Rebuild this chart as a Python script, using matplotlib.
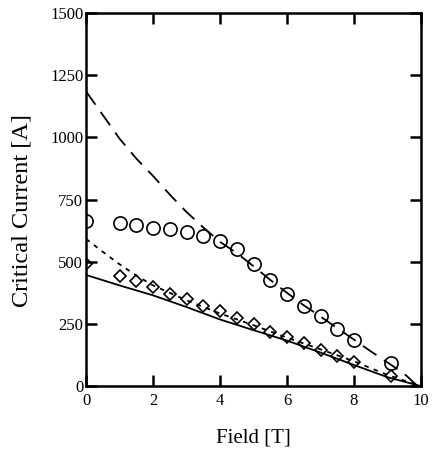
import numpy as np
import matplotlib.pyplot as plt

plt.rcParams['font.family'] = ['Liberation Serif', 'DejaVu Serif']

# 测量数据（圆圈、菱形）
b_circ = [0, 1, 1.5, 2, 2.5, 3, 3.5, 4, 4.5, 5, 5.5, 6, 6.5, 7, 7.5, 8, 9.1]
ic_circ = [665, 657, 649, 637, 633, 621, 604, 584, 552, 492, 427, 371, 322, 282, 230, 185, 93]

b_diam = [0, 1, 1.5, 2, 2.5, 3, 3.5, 4, 4.5, 5, 5.5, 6, 6.5, 7, 7.5, 8, 9.1]
ic_diam = [492, 443, 423, 399, 371, 351, 322, 302, 274, 250, 218, 197, 173, 145, 121, 97, 40]

# 计算曲线
b_dash = [0, 0.5, 1, 1.5, 2, 2.5, 3, 3.5, 4, 4.5, 5, 5.5, 6, 6.5, 7, 7.5, 8, 8.5, 9, 9.5, 9.9]
ic_dash = [1185, 1090, 995, 915, 845, 770, 700, 638, 580, 535, 482, 427, 375, 325, 280, 233, 187, 140, 95, 50, 0]

b_dot = [0, 0.5, 1, 1.5, 2, 3, 4, 5, 6, 7, 8, 9, 10]
ic_dot = [592, 540, 490, 445, 405, 345, 292, 245, 195, 148, 100, 45, 0]

b_solid = [0, 1, 2, 3, 4, 5, 6, 7, 8, 9, 10]
ic_solid = [447, 405, 365, 318, 268, 225, 183, 135, 85, 36, 0]

fig = plt.figure(figsize=(4.39, 4.49), dpi=100)
ax = fig.add_axes([0.196, 0.140, 0.763, 0.831])

ax.plot(b_dash, ic_dash, color='black', lw=1.3, dashes=(9, 5))
ax.plot(b_dot, ic_dot, color='black', lw=1.3, dashes=(2.5, 3))
ax.plot(b_solid, ic_solid, color='black', lw=1.3)
ax.plot(b_circ, ic_circ, 'o', ms=9.5, mfc='none', mec='black', mew=1.2)
ax.plot(b_diam, ic_diam, 'D', ms=6.3, mfc='none', mec='black', mew=1.2)

ax.set_xlim(0, 10)
ax.set_ylim(0, 1500)
ax.set_xticks([0, 2, 4, 6, 8, 10])
ax.set_yticks([0, 250, 500, 750, 1000, 1250, 1500])
ax.tick_params(direction='in', length=8, width=1.8, top=True, right=True, labelsize=12)
ax.tick_params(axis='x', pad=5)
ax.tick_params(axis='y', pad=2)

for s in ax.spines.values():
    s.set_linewidth(1.8)

ax.set_xlabel('Field [T]', fontsize=15, labelpad=14)
ax.set_ylabel('Critical Current [A]', fontsize=17.5)
ax.yaxis.set_label_coords(-0.16, 0.47)

fig.savefig('out.png', dpi=100)
